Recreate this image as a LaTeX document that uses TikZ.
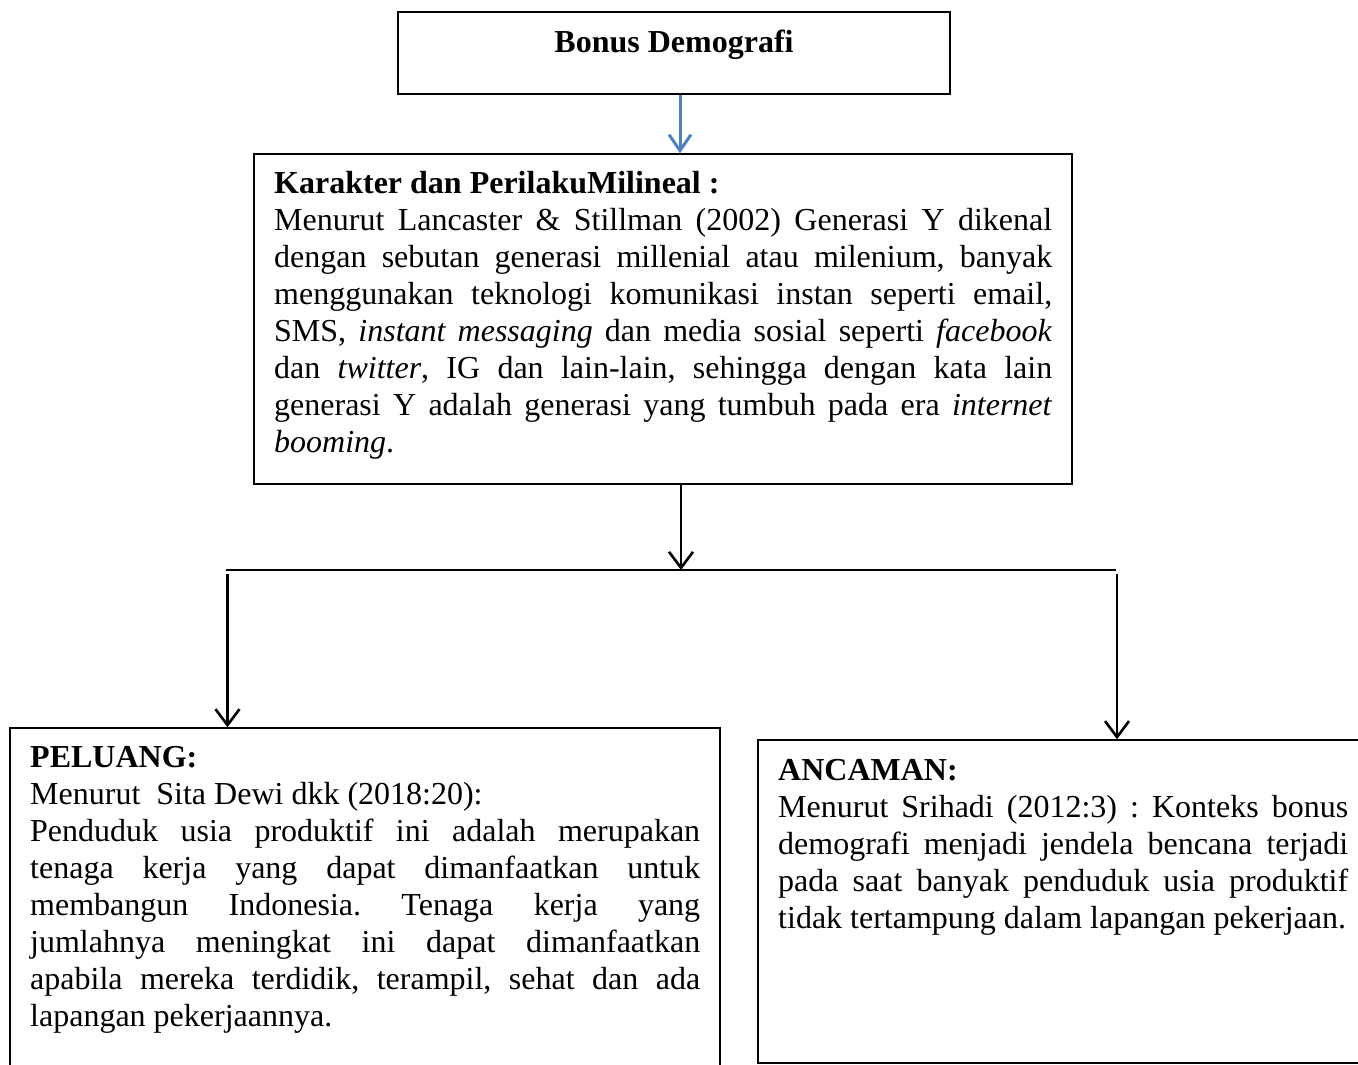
\documentclass[tikz,border=0pt]{standalone}
\usepackage{fontspec}
\setmainfont{Liberation Serif}
\usetikzlibrary{arrows.meta}
\definecolor{arrowblue}{RGB}{79,129,189}
\tikzset{
  box/.style={draw, line width=1.5pt, inner sep=0pt, fill=none},
  bodytext/.style={anchor=north west, inner sep=0pt, align=justify,
    font={\fontsize{32}{37}\selectfont\frenchspacing\tolerance=10000\hbadness=10000\hyphenpenalty=10000\exhyphenpenalty=10000\parindent=0pt}},
  conn/.style={line width=2.6pt, -{Straight Barb[length=16pt,width=24pt,line width=2.6pt]}},
  blueconn/.style={draw=arrowblue, line width=3pt, -{Straight Barb[length=16pt,width=22pt,line width=3pt]}},
  plainline/.style={line width=2.2pt},
}
\begin{document}
\begin{tikzpicture}[x=1pt,y=-1pt]
\useasboundingbox (0,0) rectangle (1358,1065);
\clip (0,0) rectangle (1358,1065);
\fill[white] (0,0) rectangle (1358,1065);

% boxes
\node[box, minimum width=552pt, minimum height=82pt] (top) at (674,53) {};
\node[box, minimum width=818pt, minimum height=330pt] (mid) at (663,319) {};
\node[box, minimum width=710pt, minimum height=372pt] (left) at (365,914) {};
\node[box, minimum width=612pt, minimum height=323pt] (right) at (1064,901.5) {};

% texts
\node[anchor=base, inner sep=0pt, font=\fontsize{32}{37}\selectfont\bfseries] (title) at (674,53) {Bonus Demografi};

\node[bodytext, text width=778pt] (midtext) at (274,167.1) {\strut\textbf{Karakter dan PerilakuMilineal :}\par
Menurut Lancaster \& Stillman (2002) Generasi Y dikenal\linebreak
dengan sebutan generasi millenial atau milenium, banyak\linebreak
menggunakan teknologi komunikasi instan seperti email,\linebreak
SMS, \textit{instant messaging} dan media sosial seperti \textit{facebook}\linebreak
dan \textit{twitter}, IG dan lain-lain, sehingga dengan kata lain\linebreak
generasi Y adalah generasi yang tumbuh pada era \textit{internet}\linebreak
\textit{booming}.};

\node[bodytext, text width=670pt] (lefttext) at (30,741.6) {\strut\textbf{PELUANG:}\par
Menurut\ \ Sita Dewi dkk (2018:20):\par
Penduduk usia produktif ini adalah merupakan\linebreak
tenaga kerja yang dapat dimanfaatkan untuk\linebreak
membangun Indonesia. Tenaga kerja yang\linebreak
jumlahnya meningkat ini dapat dimanfaatkan\linebreak
apabila mereka terdidik, terampil, sehat dan ada\linebreak
lapangan pekerjaannya.};

\node[bodytext, text width=570pt] (righttext) at (778,754.1) {\strut\textbf{ANCAMAN:}\par
Menurut Srihadi (2012:3) : Konteks bonus\linebreak
demografi menjadi jendela bencana terjadi\linebreak
pada saat banyak penduduk usia produktif\linebreak
tidak tertampung dalam lapangan pekerjaan.};

% connectors
\coordinate (junction) at (681,570);
\coordinate (hleft) at (226,570);
\coordinate (hright) at (1116,570);
\coordinate (lstart) at (227.5,574);
\coordinate (rstart) at (1117,574);

\draw[blueconn] ([xshift=6pt]top.south) -- ([xshift=6pt]top.south |- mid.north);
\draw[conn] ([xshift=18pt]mid.south) -- (junction);
\draw[plainline] (hleft) -- (hright);
\draw[conn] (lstart) -- (lstart |- left.north);
\draw[conn] (rstart) -- (rstart |- right.north);
\end{tikzpicture}
\end{document}
